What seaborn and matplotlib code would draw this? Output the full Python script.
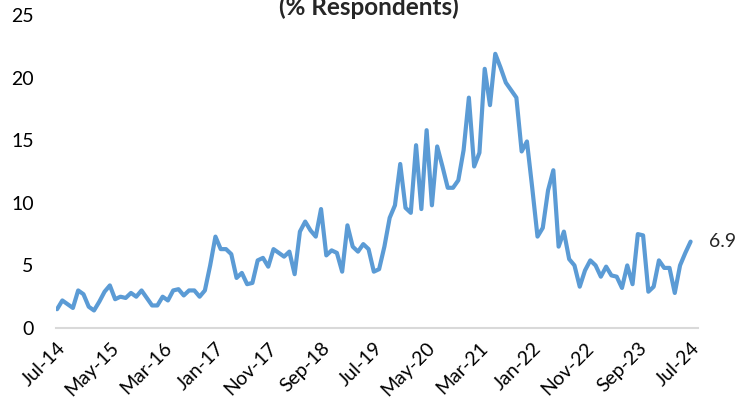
import matplotlib
matplotlib.use("Agg")
import matplotlib.pyplot as plt
import seaborn as sns
import pandas as pd
import numpy as np

values = [1.5, 2.2, 1.9, 1.6, 3.0, 2.7, 1.7, 1.4, 2.1, 2.9,
          3.4, 2.3, 2.5, 2.4, 2.8, 2.5, 3.0, 2.4, 1.8, 1.8,
          2.5, 2.2, 3.0, 3.1, 2.6, 3.0, 3.0, 2.5, 3.0, 5.0,
          7.3, 6.3, 6.3, 5.9, 4.0, 4.4, 3.5, 3.6, 5.4, 5.6,
          4.9, 6.3, 6.0, 5.7, 6.1, 4.3, 7.7, 8.5, 7.8, 7.3,
          9.5, 5.8, 6.2, 6.0, 4.5, 8.2, 6.5, 6.1, 6.7, 6.3,
          4.5, 4.7, 6.5, 8.8, 9.8, 13.1, 9.6, 9.2, 14.6, 9.5,
          15.8, 9.8, 14.5, 12.9, 11.2, 11.2, 11.8, 14.2, 18.4, 12.9,
          14.0, 20.7, 17.8, 21.9, 20.8, 19.6, 19.0, 18.4, 14.1, 14.9,
          11.2, 7.3, 8.0, 11.0, 12.6, 6.5, 7.7, 5.5, 5.0, 3.3,
          4.6, 5.4, 5.0, 4.1, 4.9, 4.2, 4.1, 3.2, 5.0, 3.5,
          7.5, 7.4, 2.9, 3.3, 5.4, 4.8, 4.8, 2.8, 5.0, 6.0,
          6.9]
tick_labels = ["Jul-14", "May-15", "Mar-16", "Jan-17", "Nov-17", "Sep-18", "Jul-19",
               "May-20", "Mar-21", "Jan-22", "Nov-22", "Sep-23", "Jul-24"]
title = "(% Respondents)"
last_label = "6.9"

df = pd.DataFrame({"month": np.arange(len(values)), "value": values})

sns.set_theme(style="white")
plt.rcParams["font.family"] = ["Lato", "DejaVu Sans"]

fig = plt.figure(figsize=(7.53, 4.08), dpi=100)
ax = fig.add_axes([56/753, 1-328/408, (698-56)/753, (328-15)/408])
sns.lineplot(data=df, x="month", y="value", ax=ax, color="#5B9BD5", linewidth=3,
             solid_joinstyle="round", solid_capstyle="round")

ax.set_xlim(-0.2, 121.4)
ax.set_ylim(0, 25)
ax.set_yticks([0, 5, 10, 15, 20, 25])
ax.set_xticks(np.arange(0, len(values), 10))
ax.set_xticklabels(tick_labels, rotation=45, ha="right", rotation_mode="anchor")
ax.tick_params(axis="both", length=0, labelsize=14, colors="black")
ax.tick_params(axis="y", pad=16)
ax.tick_params(axis="x", pad=8)
ax.set_xlabel("")
ax.set_ylabel("")
for s in ["top", "right", "left"]:
    ax.spines[s].set_visible(False)
ax.spines["bottom"].set_color("#D9D9D9")
ax.spines["bottom"].set_linewidth(1.5)
ax.patch.set_alpha(0)

ax.annotate(last_label, xy=(len(values) - 1, values[-1]), xytext=(13, 0),
            textcoords="offset points", va="center", ha="left", fontsize=14,
            annotation_clip=False)

fig.text(369/753, 1 - 15/408, title, ha="center", va="baseline",
         fontsize=17.5, fontweight="bold")

fig.savefig("out.png", dpi=100)
